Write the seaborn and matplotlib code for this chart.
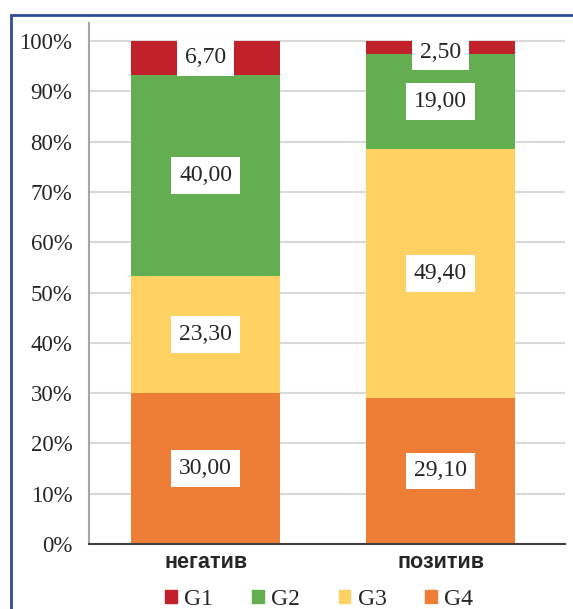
import matplotlib
matplotlib.use("Agg")
import matplotlib.pyplot as plt
import seaborn as sns
import pandas as pd
from matplotlib.patches import Patch, Rectangle

# data
categories = ["негатив", "позитив"]
groups = ["G4", "G3", "G2", "G1"]  # bottom to top
g4 = [30.00, 29.10]
g3 = [23.30, 49.40]
g2 = [40.00, 19.00]
g1 = [6.70, 2.50]
colors = {"G1": "#C1212A", "G2": "#63AE50", "G3": "#FDD262", "G4": "#EE7D36"}

sns.set_style("white")
plt.rcParams["font.family"] = ["Liberation Serif", "DejaVu Serif"]

df = pd.DataFrame({"cat": categories, "G4": g4, "G3": g3, "G2": g2, "G1": g1})

fig = plt.figure(figsize=(5.73, 6.09), dpi=100)
ax = fig.add_axes([89 / 573, 1 - 544 / 609, (565 - 89) / 573, (544 - 23) / 609])

# stacked bars: draw cumulative totals from the top layer down
cum = df[groups].cumsum(axis=1)
for g in reversed(groups):
    sns.barplot(x=df["cat"], y=cum[g], color=colors[g], width=0.635,
                saturation=1, linewidth=0, edgecolor="none", ax=ax, zorder=2)

# value labels
for i in range(len(categories)):
    base = 0
    for g in groups:
        v = df[g][i]
        mid = min(base + v / 2, 97.8)
        ax.text(i, mid, f"{v:.2f}".replace(".", ","), ha="center", va="center",
                fontsize=17, zorder=4,
                bbox=dict(boxstyle="square,pad=0.33", fc="white", ec="none"))
        base += v

ax.set_ylim(0, 103.6)
ax.set_xlim(-0.497, 1.53)
ax.set_yticks(range(0, 101, 10))
ax.set_yticklabels([f"{t}%" for t in range(0, 101, 10)], fontsize=16.5)
ax.yaxis.grid(True, color="#D9D9D9", lw=1.5, zorder=0)
ax.set_axisbelow(True)
ax.tick_params(axis="y", length=0, pad=12)
ax.tick_params(axis="x", length=0, pad=6)
for lbl in ax.get_xticklabels():
    lbl.set_family(["Liberation Sans", "DejaVu Sans"])
    lbl.set_fontweight("bold")
    lbl.set_fontsize(15.5)
ax.set_xlabel("")
ax.set_ylabel("")
for s in ["top", "right"]:
    ax.spines[s].set_visible(False)
ax.spines["left"].set_color("#A6A6A6")
ax.spines["left"].set_linewidth(1.5)
ax.spines["bottom"].set_color("#404040")
ax.spines["bottom"].set_linewidth(1.5)

handles = [Patch(color=colors[g], label=g) for g in ["G1", "G2", "G3", "G4"]]
fig.legend(handles=handles, loc="center", bbox_to_anchor=(0.557, 0.016),
           ncol=4, frameon=False, fontsize=17, handlelength=0.5,
           handleheight=0.5, handletextpad=0.3, columnspacing=1.65)

# outer frame (cut off at right and bottom)
fig.patches.append(Rectangle((11 / 573, -0.1), 1.2, 1 - 14.5 / 609 + 0.1,
                             transform=fig.transFigure, fill=False,
                             edgecolor="#2F4B9B", lw=2))

fig.savefig("out.png", dpi=100)
